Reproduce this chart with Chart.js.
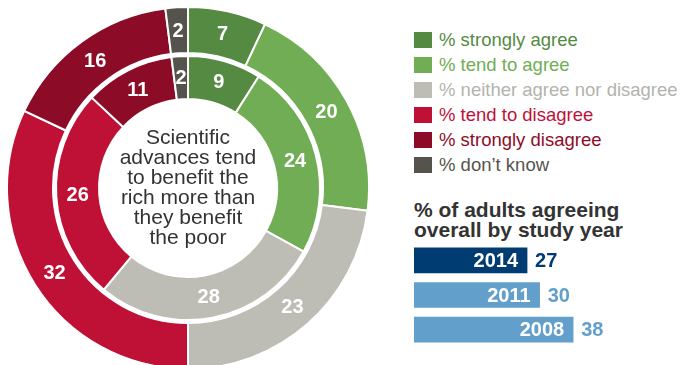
<!DOCTYPE html>
<html>
<head>
<meta charset="utf-8">
<script src="https://cdn.jsdelivr.net/npm/chart.js@4.4.1/dist/chart.umd.min.js"></script>
<style>
  body { margin: 0; width: 683px; height: 365px; overflow: hidden; position: relative; background: #fff;
         font-family: "Liberation Sans", Arial, sans-serif; }
  #ring { position: absolute; left: 6px; top: 6px; }
  #centre { position: absolute; left: 78px; top: 127px; width: 220px; text-align: center;
            font-size: 21px; line-height: 20px; color: #333; }
  #legend { position: absolute; left: 414px; top: 27px; }
  .row { height: 25px; display: flex; align-items: center; font-size: 18.5px; white-space: nowrap; }
  .sw { width: 18px; height: 16px; margin-right: 7px; flex: none; }
  #title { position: absolute; left: 414px; top: 200px; font-weight: bold; font-size: 21px;
           line-height: 19.5px; color: #333; white-space: nowrap; }
  #bars { position: absolute; left: 414px; top: 243px; }
</style>
</head>
<body>
<canvas id="ring" width="364" height="364"></canvas>
<div id="centre">Scientific<br>advances tend<br>to benefit the<br>rich more than<br>they benefit<br>the poor</div>
<div id="legend"></div>
<div id="title">% of adults agreeing<br>overall by study year</div>
<canvas id="bars" width="268" height="104"></canvas>
<script>
  // answer categories and colours
  var categories = ['% strongly agree', '% tend to agree', '% neither agree nor disagree',
                    '% tend to disagree', '% strongly disagree', '% don\u2019t know'];
  var colours = ['#548a42', '#70ad55', '#bdbdb6', '#be1135', '#8c0c27', '#55544c'];
  var textColours = ['#548a42', '#70ad55', '#b3b3ac', '#c0103a', '#8c0c27', '#55544c'];

  // rings (outer first)
  var outerRing = [7, 20, 23, 32, 16, 2];
  var innerRing = [9, 24, 28, 26, 11, 2];

  // small bar chart
  var years = ['2014', '2011', '2008'];
  var agreeing = [27, 30, 38];
  var barColours = ['#003c71', '#639fcb', '#639fcb'];

  var font = '"Liberation Sans", Arial, sans-serif';

  // legend
  var legend = document.getElementById('legend');
  categories.forEach(function (c, i) {
    var row = document.createElement('div');
    row.className = 'row';
    row.style.color = textColours[i];
    var sw = document.createElement('span');
    sw.className = 'sw';
    sw.style.background = colours[i];
    row.appendChild(sw);
    row.appendChild(document.createTextNode(c));
    legend.appendChild(row);
  });

  var arcLabels = {
    id: 'arcLabels',
    afterDatasetsDraw: function (chart) {
      var ctx = chart.ctx;
      ctx.save();
      ctx.font = 'bold 20px ' + font;
      ctx.fillStyle = '#fff';
      ctx.textAlign = 'center';
      ctx.textBaseline = 'middle';
      chart.data.datasets.forEach(function (ds, di) {
        if (di === 1) return; // spacer ring
        chart.getDatasetMeta(di).data.forEach(function (arc, i) {
          var p = arc.tooltipPosition();
          ctx.fillText(ds.data[i], p.x, p.y + 1);
        });
      });
      ctx.restore();
    }
  };

  new Chart(document.getElementById('ring'), {
    type: 'doughnut',
    data: {
      labels: categories,
      datasets: [
        { data: outerRing, backgroundColor: colours, borderColor: '#fff', borderWidth: 2, weight: 46 },
        { data: innerRing, backgroundColor: 'rgba(0,0,0,0)', borderWidth: 0, weight: 3 },
        { data: innerRing, backgroundColor: colours, borderColor: '#fff', borderWidth: 2, weight: 43 }
      ]
    },
    options: {
      responsive: false,
      animation: false,
      events: [],
      cutout: 89,
      offset: 0,
      hoverOffset: 0,
      plugins: { legend: { display: false }, tooltip: { enabled: false } }
    },
    plugins: [arcLabels]
  });

  var barLabels = {
    id: 'barLabels',
    afterDatasetsDraw: function (chart) {
      var ctx = chart.ctx;
      ctx.save();
      ctx.font = 'bold 20px ' + font;
      ctx.textBaseline = 'middle';
      chart.getDatasetMeta(0).data.forEach(function (bar, i) {
        ctx.fillStyle = '#fff';
        ctx.textAlign = 'right';
        ctx.fillText(years[i], bar.x - 9, bar.y + 1);
        ctx.fillStyle = barColours[i];
        ctx.textAlign = 'left';
        ctx.fillText(agreeing[i], bar.x + 8, bar.y + 1);
      });
      ctx.restore();
    }
  };

  new Chart(document.getElementById('bars'), {
    type: 'bar',
    data: {
      labels: years,
      datasets: [{ data: agreeing, backgroundColor: barColours, barThickness: 25, borderWidth: 0 }]
    },
    options: {
      indexAxis: 'y',
      responsive: false,
      animation: false,
      events: [],
      layout: { padding: 0 },
      scales: {
        x: { display: false, min: 0, max: 64 },
        y: { display: false }
      },
      plugins: { legend: { display: false }, tooltip: { enabled: false } }
    },
    plugins: [barLabels]
  });
</script>
</body>
</html>
